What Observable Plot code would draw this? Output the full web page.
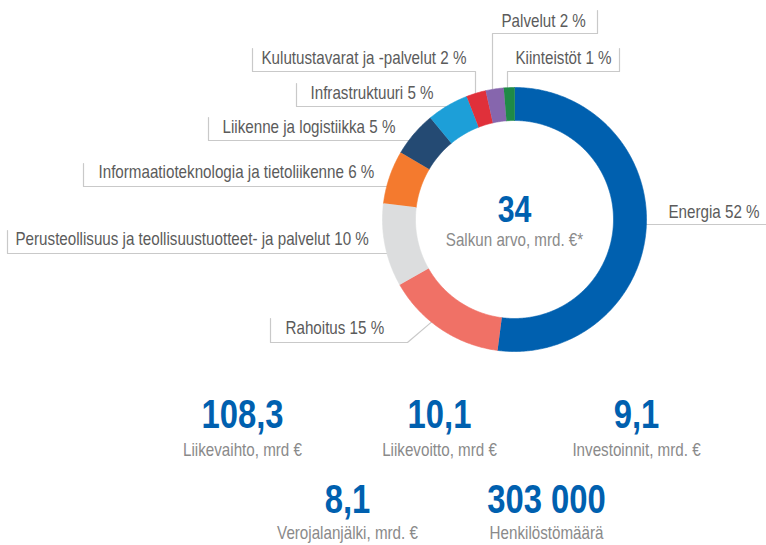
<!DOCTYPE html>
<html>
<head>
<meta charset="utf-8">
<script src="https://cdn.jsdelivr.net/npm/d3@7"></script>
<script src="https://cdn.jsdelivr.net/npm/@observablehq/plot@0.6"></script>
<style>
  html, body { margin: 0; padding: 0; background: #fff; }
  #chart { width: 766px; height: 545px; }
</style>
</head>
<body>
<div id="chart"></div>
<script>
// ---- data ----
const sectors = [
  "Energia",
  "Rahoitus",
  "Perusteollisuus ja teollisuustuotteet- ja palvelut",
  "Informaatioteknologia ja tietoliikenne",
  "Liikenne ja logistiikka",
  "Infrastruktuuri",
  "Kulutustavarat ja -palvelut",
  "Palvelut",
  "Kiinteistöt"
];
const shares = [52, 14.7, 10.2, 6.5, 5.5, 5.1, 2.4, 2.2, 1.3];
const shareLabels = ["52 %", "15 %", "10 %", "6 %", "5 %", "5 %", "2 %", "2 %", "1 %"];
const sectorColors = ["#0060af", "#f07166", "#dcddde", "#f47a2e", "#244a73", "#1d9fd8", "#e0303a", "#8666ad", "#1f8a47"];

const centerValue = "34";
const centerLabel = "Salkun arvo, mrd. €*";

const kpiValues = ["108,3", "10,1", "9,1", "8,1", "303 000"];
const kpiLabels = ["Liikevaihto, mrd €", "Liikevoitto, mrd €", "Investoinnit, mrd. €", "Verojalanjälki, mrd. €", "Henkilöstömäärä"];

// ---- layout (positions / styles) ----
const W = 766, H = 545;
const cx = 514, cy = 219, rOuter = 132, rInner = 99;
const FONT = "'Liberation Sans', Arial, sans-serif";
const NARROW = 0.82; // horizontal compression to mimic a narrow typeface
const labelLayout = [
  {tx: 668, ty: 217, type: "energy", lineY: 224},
  {tx: 285, ty: 333, fx: 270, ftop: 318, lineY: 342, type: "diag", corner: 407, angle: 219},
  {tx: 15,  ty: 244, fx: 7,   ftop: 230, lineY: 253, type: "horiz"},
  {tx: 98,  ty: 177, fx: 83,  ftop: 163, lineY: 186, type: "horiz"},
  {tx: 222, ty: 132, fx: 208, ftop: 117, lineY: 140, type: "horiz"},
  {tx: 310, ty: 98,  fx: 296, ftop: 83,  lineY: 106, type: "horiz", r: 126},
  {tx: 261, ty: 63,  fx: 252, ftop: 48,  lineY: 71,  type: "down", lx: 475},
  {tx: 501, ty: 26,  fx: 597, ftop: 10,  lineY: 33,  type: "down", lx: 492},
  {tx: 515, ty: 63,  fx: 619, ftop: 48,  lineY: 71,  type: "down", lx: 507}
];
const kpiLayout = [
  {x: 242, vy: 427, ly: 455},
  {x: 439, vy: 427, ly: 455},
  {x: 636, vy: 427, ly: 455},
  {x: 347, vy: 512, ly: 538},
  {x: 546, vy: 512, ly: 538}
];

// ---- ring polygons from the shares ----
const arcs = d3.pie().sort(null).value(d => d)(shares);
const ringPts = [];
arcs.forEach((a, i) => {
  const n = Math.max(2, Math.ceil((a.endAngle - a.startAngle) / 0.01));
  for (let k = 0; k <= n; k++) {
    const t = a.startAngle + (a.endAngle - a.startAngle) * k / n;
    ringPts.push({name: sectors[i], x: cx + rOuter * Math.sin(t), y: cy - rOuter * Math.cos(t)});
  }
  for (let k = n; k >= 0; k--) {
    const t = a.startAngle + (a.endAngle - a.startAngle) * k / n;
    ringPts.push({name: sectors[i], x: cx + rInner * Math.sin(t), y: cy - rInner * Math.cos(t)});
  }
});

// ---- leader lines ----
const leaderPts = [];
labelLayout.forEach((L, i) => {
  const id = sectors[i];
  const push = (x, y) => leaderPts.push({id, x, y});
  if (L.type === "energy") {
    const x0 = cx + Math.sqrt(rOuter * rOuter - (L.lineY - cy) ** 2);
    push(x0, L.lineY); push(W, L.lineY);
    return;
  }
  push(L.fx, L.ftop);
  push(L.fx, L.lineY);
  if (L.type === "horiz") {
    const r = L.r || rOuter;
    const xe = cx - Math.sqrt(r * r - (L.lineY - cy) ** 2);
    push(xe, L.lineY);
  } else if (L.type === "down") {
    push(L.lx, L.lineY);
    const ye = cy - Math.sqrt((rOuter - 2) ** 2 - (L.lx - cx) ** 2);
    push(L.lx, ye);
  } else if (L.type === "diag") {
    push(L.corner, L.lineY);
    const t = L.angle * Math.PI / 180;
    push(cx + rOuter * Math.sin(t), cy - rOuter * Math.cos(t));
  }
});

const labelRows = sectors.map((s, i) => ({
  text: s + " " + shareLabels[i], x: labelLayout[i].tx, y: labelLayout[i].ty
}));
const kpiRows = kpiValues.map((v, i) => ({value: v, label: kpiLabels[i], ...kpiLayout[i]}));

const chart = Plot.plot({
  width: W,
  height: H,
  margin: 0,
  style: {fontFamily: FONT, background: "#fff"},
  x: {domain: [0, W], range: [0, W], axis: null},
  y: {domain: [0, H], range: [0, H], axis: null},
  color: {domain: sectors, range: sectorColors},
  marks: [
    Plot.line(leaderPts, {x: "x", y: "y", z: "id", stroke: "#c9c9c9", strokeWidth: 1.2, curve: "linear"}),
    Plot.line(ringPts, {x: "x", y: "y", z: "name", fill: "name", stroke: "name", strokeWidth: 0.6, curve: "linear"}),
    Plot.text(labelRows, {x: "x", y: "y", text: "text", textAnchor: "start", lineAnchor: "bottom",
      fontSize: 18.5, fill: "#5b5b5b", fontFamily: FONT}),
    Plot.text([centerValue], {x: () => cx, y: () => 221, text: d => d, textAnchor: "middle", lineAnchor: "bottom",
      fontSize: 37, fontWeight: "bold", fill: "#0060af", fontFamily: FONT}),
    Plot.text([centerLabel], {x: () => cx, y: () => 245, text: d => d, textAnchor: "middle", lineAnchor: "bottom",
      fontSize: 18.5, fill: "#8a8a8a", fontFamily: FONT}),
    Plot.text(kpiRows, {x: "x", y: "vy", text: "value", textAnchor: "middle", lineAnchor: "bottom",
      fontSize: 40, fontWeight: "bold", fill: "#0060af", fontFamily: FONT}),
    Plot.text(kpiRows, {x: "x", y: "ly", text: "label", textAnchor: "middle", lineAnchor: "bottom",
      fontSize: 18.5, fill: "#8a8a8a", fontFamily: FONT})
  ]
});
document.getElementById("chart").appendChild(chart);
// compress glyphs horizontally to mimic the narrow typeface of the original
chart.querySelectorAll("text").forEach(t => {
  const len = t.getComputedTextLength();
  if (len > 0) {
    t.setAttribute("textLength", (len * NARROW).toFixed(1));
    t.setAttribute("lengthAdjust", "spacingAndGlyphs");
  }
});
</script>
</body>
</html>
